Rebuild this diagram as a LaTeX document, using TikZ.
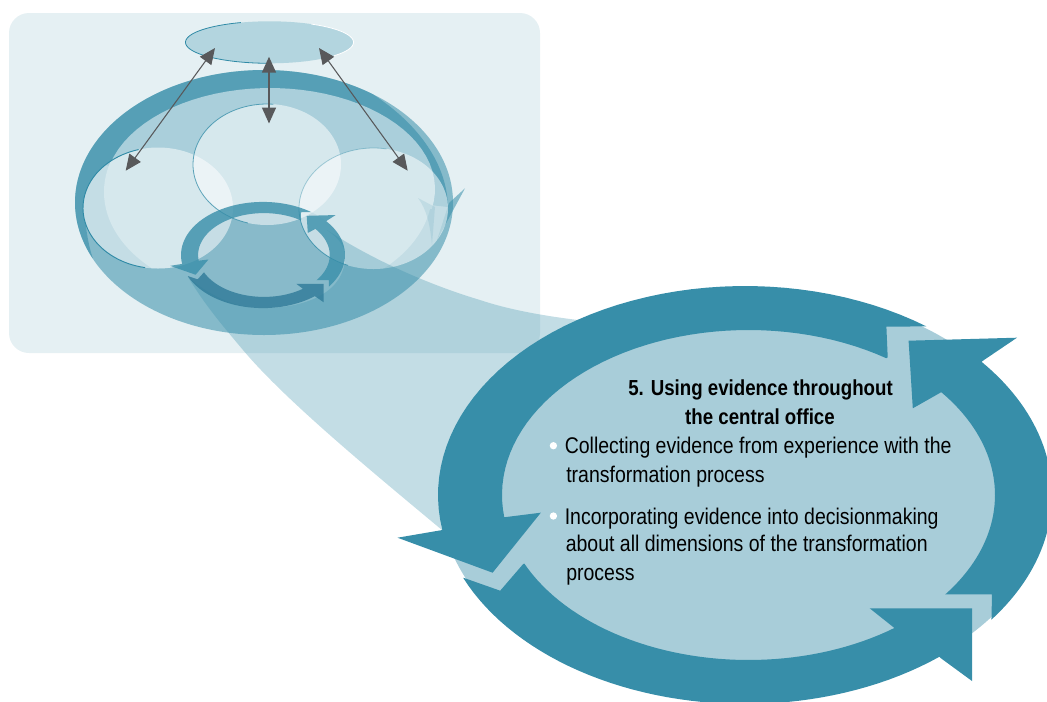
\documentclass[tikz,border=0pt]{standalone}
\usepackage{fontspec}
\setmainfont{Liberation Sans}[FakeStretch=0.86]
\usetikzlibrary{arrows.meta}
\definecolor{teal}{HTML}{378EA9}
\definecolor{panelc}{HTML}{E5F0F3}
\definecolor{paleblue}{HTML}{A8CDD9}
\definecolor{innerlight}{HTML}{AACFDB}
\definecolor{ringcore}{HTML}{88BACA}
\definecolor{topdisc}{HTML}{B3D5DF}
\definecolor{edgeteal}{HTML}{2F8AA6}
\definecolor{arrowgray}{HTML}{58595B}
\definecolor{ringdeep}{HTML}{2F7A98}
\newcommand{\earc}[6]{plot[domain=#5:#6,samples=48] ({#1+#3*cos(\x)},{#2+#4*sin(\x)})}
\newcommand{\learc}[6]{-- plot[domain=#5:#6,samples=48] ({#1+#3*cos(\x)},{#2+#4*sin(\x)})}
\newcommand{\segA}{(442.4,530) -- (397.5,537.7) -- (492.6,572.7) -- (540.8,512.7) -- (504,517.3) \learc{748.5}{495}{246.5}{165}{172.4}{304} -- (887.7,357.3) -- (886.4,326.7) \learc{745}{495}{307}{209}{306.2}{170.4} -- cycle}
\newcommand{\segB}{(908.6,340.7) -- (1017,337.7) -- (985,359.3) \learc{745}{495}{307}{209}{-39.6}{36.6} -- (992,594.3) -- (945,594.3) \learc{748.5}{495}{246.5}{165}{37}{-38.5} -- (941,392.3) -- (912.8,408.3) -- cycle}
\newcommand{\segC}{(972,608.3) -- (869.7,608.3) -- (894.8,628.3) \learc{748.5}{495}{246.5}{165}{53.7}{155.4} -- (523.2,564) -- (500.2,590.7) -- (463.3,577.7) \learc{745}{495}{307}{209}{156.6}{50.7} -- (941,658.3) -- (972,681) -- cycle}
\tikzset{
  panel/.style={fill=panelc},
  washband/.style={fill=teal,fill opacity=.55},
  darkband/.style={fill=teal,fill opacity=.6},
  funnel/.style={fill=teal,fill opacity=.3},
  bubble/.style={fill=white,fill opacity=.52},
  miniseg/.style={fill=teal,fill opacity=.78},
  minideep/.style={fill=ringdeep,fill opacity=.8},
  doublearrow/.style={draw=arrowgray,line width=.8pt,{Triangle[length=12pt,width=10.5pt]}-{Triangle[length=12pt,width=10.5pt]}},
  bodyline/.style={anchor=base west,inner sep=0pt,font=\fontsize{17}{20}\selectfont,text=black},
  headline/.style={anchor=base,inner sep=0pt,font=\fontsize{16.3}{20}\selectfont\bfseries,text=black},
  dot/.style={circle,fill=white,inner sep=0pt,minimum size=5.5pt}
}
\begin{document}
\begin{tikzpicture}[x=.75pt,y=-.75pt]
\useasboundingbox (0,0) rectangle (1047,701);
% panel
\fill[panel,rounded corners=15pt] (9,13) rectangle (540,353);
% bowl base
\fill[washband] (264,202.5) ellipse [x radius=189,y radius=132.5];
\fill[washband] (465,188.3) -- (449,203) -- (437,240) -- cycle;
% darker band
\fill[darkband] \earc{264}{202.5}{189}{132.5}{155}{305} .. controls (420,125) and (447,165) .. (448,207) -- (430,205) \learc{158}{208}{75}{60.5}{225}{165} .. controls (87,235) and (89,247) .. (92.7,258) -- cycle;
% light interior
\fill[innerlight] \earc{270}{189}{165}{101}{168.6}{371.4} -- cycle;
\begin{scope}
  \clip (268,192) ellipse [x radius=164,y radius=108];
  \fill[innerlight] (158,208) ellipse [x radius=75,y radius=60.5];
  \fill[innerlight] (373.5,208.5) ellipse [x radius=74.5,y radius=60.5];
\end{scope}
\fill[ringcore] (263,255) ellipse [x radius=82,y radius=53];
% bubbles
\fill[bubble] (158,208) ellipse [x radius=75,y radius=60.5];
\fill[bubble] (267,164.5) ellipse [x radius=74,y radius=60.5];
\fill[bubble] (373.5,208.5) ellipse [x radius=74.5,y radius=60.5];
\fill[teal,fill opacity=.13] (418,198) -- (435,207) -- (432,245) .. controls (430,225) and (427,210) .. (418,198) -- cycle;
\draw[edgeteal,line width=.7pt] \earc{158}{208}{75}{60.5}{100}{255};
\draw[edgeteal,line width=.6pt,opacity=.75] \earc{267}{164.5}{74}{60.5}{105}{275};
\draw[edgeteal,line width=.6pt,opacity=.4] \earc{373.5}{208.5}{74.5}{60.5}{180}{280};
\draw[edgeteal,line width=.6pt,opacity=.8] \earc{373.5}{208.5}{74.5}{60.5}{110}{180};
% funnel
\fill[funnel] (327,230) .. controls (365,255) and (420,282) .. (480,300) .. controls (510,310) and (545,316) .. (578,320) -- (745,400) -- (442,530) .. controls (370,470) and (285,400) .. (243,350) .. controls (222,325) and (205,305) .. (188,277) .. controls (215,300) and (240,308) .. (263,308) .. controls (310,308) and (345,290) .. (345,257) .. controls (345,245) and (338,238) .. (327,230) -- cycle;
% small ring of arrows
\begin{scope}[shift={(263,255)},xscale=.267,yscale=.254,shift={(-745,-495)}]
  \fill[miniseg] \segA;
  \fill[miniseg] \segB;
  \fill[minideep] \segC;
\end{scope}
% top disc
\fill[topdisc] (269.5,42.3) ellipse [x radius=84,y radius=21];
\draw[edgeteal,line width=.6pt] \earc{269.5}{42.3}{84}{21}{92}{250};
\draw[white,line width=.6pt] \earc{269.5}{42.3}{84}{21}{-60}{40};
% double arrows
\coordinate (discL) at (215,48);
\coordinate (discC) at (269,56.7);
\coordinate (discR) at (319,48);
\coordinate (bubL) at (125.7,170.7);
\coordinate (bubC) at (269,123.5);
\coordinate (bubR) at (407.7,170.7);
\draw[doublearrow] (discL) -- (bubL);
\draw[doublearrow,line width=1.1pt] (discC) -- (bubC);
\draw[doublearrow] (discR) -- (bubR);
% large ring
\fill[paleblue] (745,495) ellipse [x radius=305,y radius=207];
\fill[teal] \segA;
\fill[teal] \segB;
\fill[teal] \segC;
% text
\node[headline] (h1) at (760.5,395.7) {5. Using evidence throughout};
\node[headline] (h2) at (760,424.7) {the central office};
\node[dot] (d1) at (553.4,445.7) {};
\node[bodyline] (b1) at (564.5,453) {Collecting evidence from experience with the};
\node[bodyline] (b2) at (566,482) {transformation process};
\node[dot] (d2) at (553.4,516) {};
\node[bodyline] (b3) at (564.5,524) {Incorporating evidence into decisionmaking};
\node[bodyline] (b4) at (565.5,551.7) {about all dimensions of the transformation};
\node[bodyline] (b5) at (566,580.7) {process};
\end{tikzpicture}
\end{document}
